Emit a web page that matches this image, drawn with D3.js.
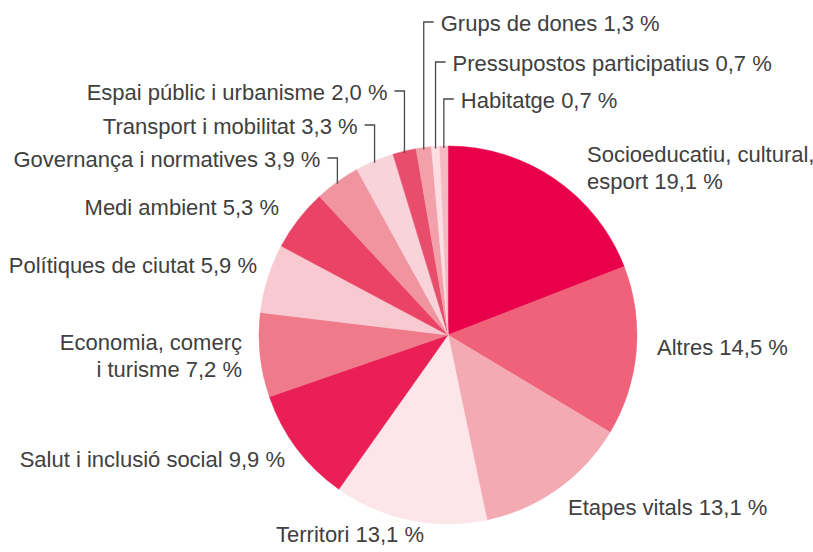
<!DOCTYPE html>
<html>
<head>
<meta charset="utf-8">
<script src="https://cdn.jsdelivr.net/npm/d3@7"></script>
<style>
  body { margin: 0; background: #fff; }
  svg { display: block; }
</style>
</head>
<body>
<div id="root"></div>
<script>
// dades (percentatges, en ordre horari des de dalt)
const categories = [
  "Socioeducatiu, cultural, esport", "Altres", "Etapes vitals", "Territori",
  "Salut i inclusió social", "Economia, comerç i turisme", "Polítiques de ciutat",
  "Medi ambient", "Governança i normatives", "Transport i mobilitat",
  "Espai públic i urbanisme", "Grups de dones", "Pressupostos participatius", "Habitatge"
]
const values = [19.1, 14.5, 13.1, 13.1, 9.9, 7.2, 5.9, 5.3, 3.9, 3.3, 2.0, 1.3, 0.7, 0.7]
const valueLabels = ["19,1", "14,5", "13,1", "13,1", "9,9", "7,2", "5,9", "5,3", "3,9", "3,3", "2,0", "1,3", "0,7", "0,7"]
const colors = [
  "#e8004b", "#ef627a", "#f4aab3", "#fde6ea", "#e91f55", "#ee7a8a", "#f8c9d1",
  "#ea4365", "#f0949f", "#f9d3da", "#e84e6c", "#f2a0aa", "#fbdde2", "#f5b9c1"
]
// línies del text (salts de línia com a l'original)
const labelLines = [
  ["Socioeducatiu, cultural,", "esport 19,1 %"],
  null, null, null, null,
  ["Economia, comerç", "i turisme 7,2 %"]
]

const width = 813
const height = 552
const cx = 448, cy = 335, radius = 189
const fontSize = 22
const lineH = 26.5

// posició de les etiquetes: [x, y línia base, anchor, amb guia]
const layout = [
  [587, 162, "start", false],
  [657, 355, "start", false],
  [568, 515, "start", false],
  [276, 542, "start", false],
  [285, 467, "end", false],
  [242, 350, "end", false],
  [257, 273, "end", false],
  [279, 215, "end", false],
  [null, 167, "end", true],
  [null, 134, "end", true],
  [null, 100, "end", true],
  [null, 31, "start", true],
  [null, 71, "start", true],
  [null, 108, "start", true]
]

const data = categories.map((c, i) => ({
  name: c, value: values[i], label: valueLabels[i], color: colors[i],
  lines: labelLines[i] || [`${c} ${valueLabels[i]} %`],
  pos: layout[i]
}))

const svg = d3.select("#root").append("svg")
  .attr("width", width)
  .attr("height", height)
  .attr("viewBox", `0 0 ${width} ${height}`)

const pie = d3.pie().value(d => d.value).sort(null)
const arc = d3.arc().innerRadius(0).outerRadius(radius)
const arcs = pie(data)

const g = svg.append("g").attr("transform", `translate(${cx} ${cy})`)

g.selectAll("path")
  .data(arcs)
  .enter()
  .append("path")
  .attr("d", arc)
  .attr("fill", d => d.data.color)
  .attr("stroke", d => d.data.color)
  .attr("stroke-width", 0.5)

const tick = 10
const gap = 7

// guies per a les porcions petites
const leaders = arcs.filter(d => d.data.pos[3])
leaders.forEach(d => {
  const mid = (d.startAngle + d.endAngle) / 2
  const lx = cx + radius * Math.sin(mid)
  const ly = cy - radius * Math.cos(mid) + 2
  const ty = d.data.pos[1] - 9
  const dir = d.data.pos[2] === "start" ? 1 : -1
  svg.append("path")
    .attr("d", `M ${lx} ${ly} V ${ty} h ${dir * tick}`)
    .attr("fill", "none")
    .attr("stroke", "#4a4a4a")
    .attr("stroke-width", 1.3)
  d.data.tx = lx + dir * (tick + gap)
})

const labels = svg.append("g")
  .attr("font-family", "'Liberation Sans', Arial, sans-serif")
  .attr("font-size", fontSize)
  .attr("fill", "#404040")

arcs.forEach(d => {
  const p = d.data.pos
  const x = p[3] ? d.data.tx : p[0]
  const t = labels.append("text")
    .attr("text-anchor", p[2])
  d.data.lines.forEach((l, k) => {
    t.append("tspan")
      .attr("x", x)
      .attr("y", p[1] + k * lineH)
      .text(l)
  })
})
</script>
</body>
</html>
